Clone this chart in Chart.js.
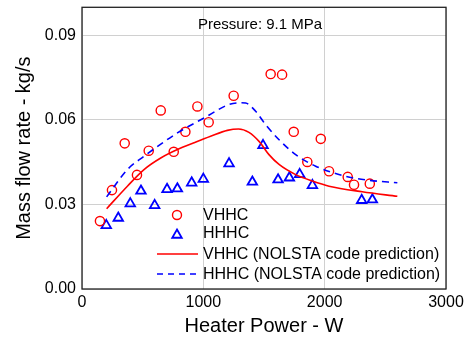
<!DOCTYPE html>
<html>
<head>
<meta charset="utf-8">
<script src="https://cdn.jsdelivr.net/npm/chart.js@4"></script>
<style>
  html, body { margin: 0; padding: 0; background: #fff; }
</style>
</head>
<body>
<canvas id="myChart" width="465" height="344"></canvas>
<script>
// measured points
const vhhcPower = [148, 247, 352, 453, 550, 649, 756, 852, 951, 1044, 1250, 1555, 1649, 1745, 1857, 1968, 2036, 2190, 2242, 2372];
const vhhcFlow  = [0.0241, 0.0351, 0.0517, 0.0405, 0.0491, 0.0634, 0.0487, 0.0558, 0.0648, 0.0592, 0.0686, 0.0763, 0.0761, 0.0558, 0.0451, 0.0533, 0.0418, 0.0398, 0.0370, 0.0374];

const hhhcPower = [200, 299, 398, 486, 599, 701, 786, 904, 1000, 1212, 1404, 1492, 1616, 1709, 1794, 1899, 2305, 2393];
const hhhcFlow  = [0.0226, 0.0252, 0.0303, 0.0348, 0.0297, 0.0354, 0.0356, 0.0377, 0.0390, 0.0445, 0.0380, 0.0510, 0.0388, 0.0395, 0.0407, 0.0368, 0.0315, 0.0317];

// NOLSTA code predictions
const vhhcPredPower = [203, 374, 511, 649, 786, 923, 1060, 1198, 1290, 1376, 1459, 1541, 1624, 1761, 1899, 2036, 2310, 2599];
const vhhcPredFlow  = [0.0285, 0.0365, 0.0424, 0.0465, 0.0495, 0.0519, 0.0542, 0.0563, 0.0568, 0.0556, 0.0524, 0.0477, 0.0442, 0.0406, 0.0383, 0.0365, 0.0345, 0.0329];

const hhhcPredPower = [203, 374, 511, 786, 1006, 1212, 1300, 1349, 1431, 1514, 1624, 1761, 1926, 2173, 2365, 2599];
const hhhcPredFlow  = [0.0327, 0.0424, 0.0471, 0.0554, 0.0607, 0.0655, 0.0661, 0.0660, 0.0631, 0.0583, 0.0530, 0.0477, 0.0436, 0.0400, 0.0386, 0.0377];

const xTicks = [0, 500, 1000, 1500, 2000, 2500, 3000];
const yTicks = [0, 0.015, 0.03, 0.045, 0.06, 0.075, 0.09];

const toPts = (xs, ys) => xs.map((x, i) => ({ x: x, y: ys[i] }));

Chart.defaults.font.family = '"Liberation Sans", Arial, sans-serif';
Chart.defaults.color = '#000';

const RED = '#ff0000';
const BLUE = '#0000ff';

// frame, title text and legend inside the plot
const extras = {
  id: 'extras',
  afterDraw(chart) {
    const c = chart.ctx;
    const a = chart.chartArea;
    c.save();
    c.strokeStyle = '#222';
    c.lineWidth = 1.3;
    c.strokeRect(a.left, a.top, a.right - a.left, a.bottom - a.top);

    c.fillStyle = '#000';
    c.textBaseline = 'middle';
    c.textAlign = 'center';
    c.font = '15px "Liberation Sans", Arial, sans-serif';
    c.fillText('Pressure: 9.1 MPa', 260, 25);

    c.textAlign = 'left';
    c.font = '16px "Liberation Sans", Arial, sans-serif';
    const tx = 203, mx = 177;
    // circle
    c.strokeStyle = RED; c.lineWidth = 1.4;
    c.beginPath(); c.arc(mx, 215, 4.5, 0, Math.PI * 2); c.stroke();
    c.fillText('VHHC', tx, 216);
    // triangle
    c.strokeStyle = BLUE; c.lineWidth = 1.8;
    const r = 5.5, ty = 235;
    c.beginPath();
    c.moveTo(mx, ty - r);
    c.lineTo(mx + r * 0.866, ty + r / 2);
    c.lineTo(mx - r * 0.866, ty + r / 2);
    c.closePath(); c.stroke();
    c.fillText('HHHC', tx, 234);
    // solid line
    c.strokeStyle = RED; c.lineWidth = 1.6;
    c.beginPath(); c.moveTo(157, 254); c.lineTo(198, 254); c.stroke();
    c.fillText('VHHC (NOLSTA code prediction)', tx, 255);
    // dashed line
    c.strokeStyle = BLUE; c.setLineDash([6, 5]);
    c.beginPath(); c.moveTo(157, 274); c.lineTo(198, 274); c.stroke();
    c.setLineDash([]);
    c.fillText('HHHC (NOLSTA code prediction)', tx, 275);
    c.restore();
  }
};

new Chart(document.getElementById('myChart'), {
  type: 'scatter',
  data: {
    datasets: [
      {
        label: 'VHHC (NOLSTA code prediction)',
        data: toPts(vhhcPredPower, vhhcPredFlow),
        showLine: true,
        borderColor: RED,
        borderWidth: 1.6,
        pointRadius: 0,
        cubicInterpolationMode: 'monotone'
      },
      {
        label: 'HHHC (NOLSTA code prediction)',
        data: toPts(hhhcPredPower, hhhcPredFlow),
        showLine: true,
        borderColor: BLUE,
        borderWidth: 1.6,
        borderDash: [7, 5],
        pointRadius: 0,
        cubicInterpolationMode: 'monotone'
      },
      {
        label: 'VHHC',
        data: toPts(vhhcPower, vhhcFlow),
        pointStyle: 'circle',
        pointRadius: 4.6,
        borderColor: RED,
        backgroundColor: 'rgba(0,0,0,0)',
        borderWidth: 1.4
      },
      {
        label: 'HHHC',
        data: toPts(hhhcPower, hhhcFlow),
        pointStyle: 'triangle',
        pointRadius: 5.5,
        borderColor: BLUE,
        backgroundColor: 'rgba(0,0,0,0)',
        borderWidth: 1.8
      }
    ]
  },
  options: {
    responsive: false,
    animation: false,
    devicePixelRatio: 1,
    layout: { padding: { top: 7, right: 19, left: 0, bottom: 0 } },
    plugins: {
      legend: { display: false },
      tooltip: { enabled: false }
    },
    scales: {
      x: {
        type: 'linear',
        min: 0,
        max: 3000,
        afterBuildTicks: s => { s.ticks = xTicks.map(v => ({ value: v })); },
        afterFit: s => { s.height = 55; s.paddingLeft = 0; s.paddingRight = 0; },
        ticks: {
          autoSkip: false,
          maxRotation: 0,
          padding: 4,
          font: { size: 16 },
          callback: v => (v % 1000 === 0 ? String(v) : null)
        },
        grid: { color: '#d0d0d0', lineWidth: 1, drawTicks: false },
        border: { display: false },
        title: {
          display: true,
          text: 'Heater Power - W',
          font: { size: 20 },
          padding: { top: 0, bottom: 6 }
        }
      },
      y: {
        min: 0,
        max: 0.1,
        afterBuildTicks: s => { s.ticks = yTicks.map(v => ({ value: v })); },
        afterFit: s => { s.width = 82; s.paddingTop = 0; s.paddingBottom = 0; },
        ticks: {
          autoSkip: false,
          padding: 6,
          font: { size: 16 },
          callback: v => (Math.round(v * 1000) % 30 === 0 ? v.toFixed(2) : null)
        },
        grid: { color: '#d0d0d0', lineWidth: 1, drawTicks: false },
        border: { display: false },
        title: {
          display: true,
          text: 'Mass flow rate - kg/s',
          font: { size: 20 },
          padding: { top: 12, bottom: 0 }
        }
      }
    }
  },
  plugins: [extras]
});
</script>
</body>
</html>
